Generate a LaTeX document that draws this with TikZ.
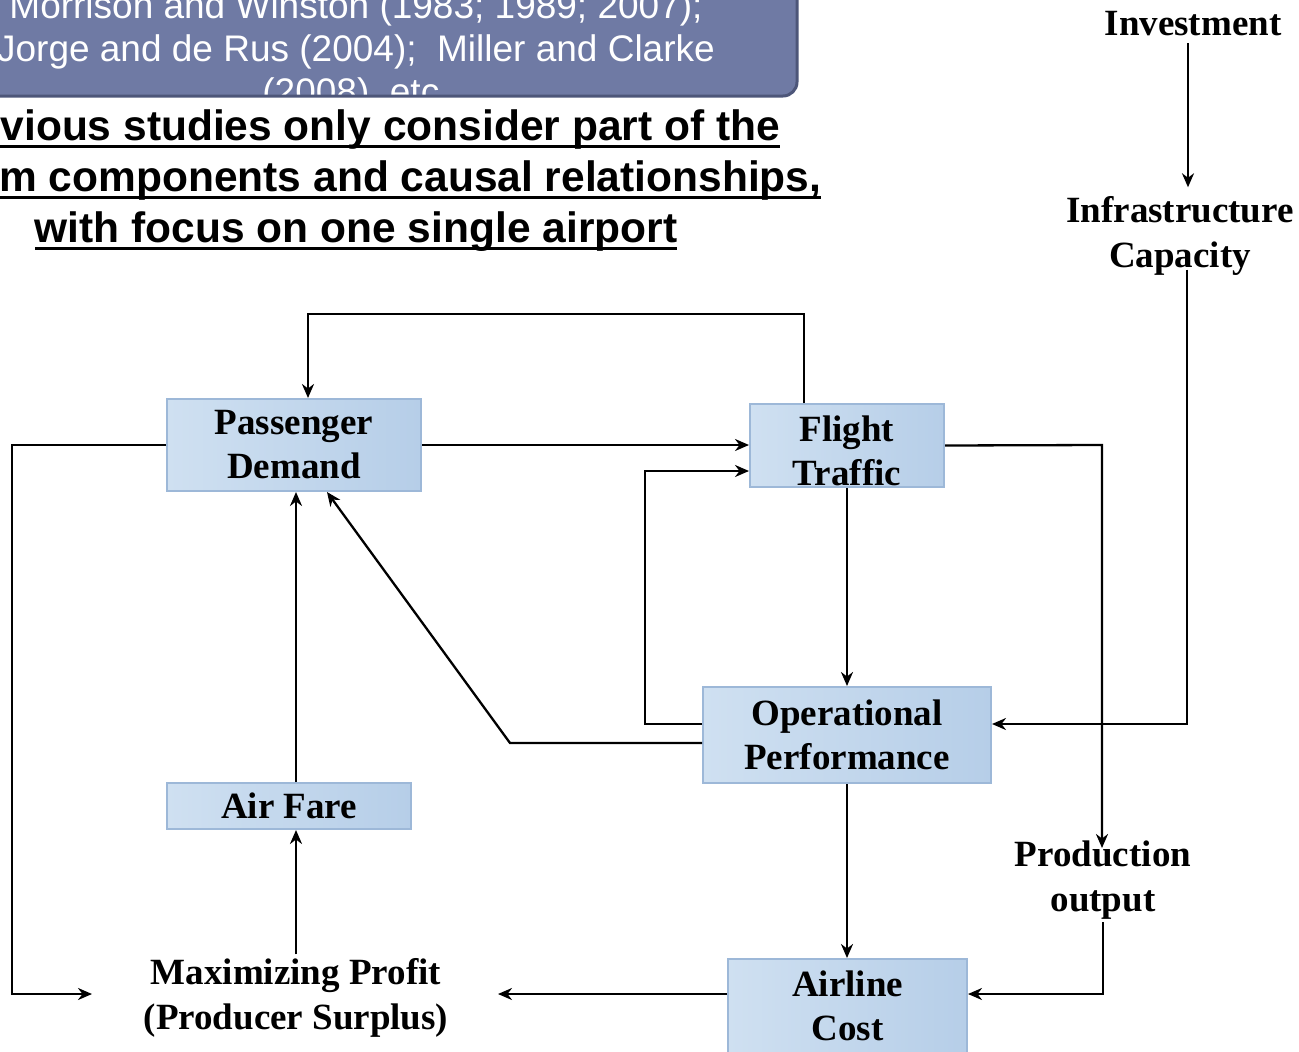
\documentclass[tikz,border=0pt]{standalone}
\usepackage{fontspec}
\setmainfont{Liberation Serif}
\newfontfamily\sansfam{Liberation Sans}
\usetikzlibrary{arrows.meta,calc}
\definecolor{boxL}{HTML}{CFE0F1}
\definecolor{boxR}{HTML}{B6CEE8}
\definecolor{boxEdge}{HTML}{9DB8D8}
\definecolor{refFill}{HTML}{6F7AA4}
\definecolor{refEdge}{HTML}{4D5679}
\tikzset{
  stagebox/.style={draw=boxEdge, line width=2pt, left color=boxL, right color=boxR,
    inner sep=0pt, align=center, font=\bfseries\fontsize{37}{44}\selectfont},
  freetext/.style={inner sep=0pt, align=center, font=\bfseries\fontsize{37}{45}\selectfont},
  reftext/.style={inner sep=0pt, anchor=base, text=white, font=\sansfam\fontsize{37}{42}\selectfont},
  claimtext/.style={inner sep=0pt, anchor=base, font=\sansfam\bfseries\fontsize{42.5}{51}\selectfont},
  link/.style={line width=2.3pt, -{Stealth[length=14pt,width=12pt,inset=4.5pt]}},
}
\begin{document}
\begin{tikzpicture}[x=1pt,y=-1pt]
\useasboundingbox (0,0) rectangle (1299,1052);
\clip (0,0) rectangle (1299,1052);

% reference box with the literature list
\fill[refFill, rounded corners=14pt] (-40,-40) rectangle (797,96);
\begin{scope}
  \clip[rounded corners=14pt] (-40,-40) rectangle (797,96);
  \node[reftext] (r1) at (356,19) {Morrison and Winston (1983; 1989; 2007);};
  \node[reftext] (r2) at (356,61) {Jorge and de Rus (2004); \ Miller and Clarke};
  \node[reftext] (r3) at (356,104) {(2008), etc.};
\end{scope}
\draw[refEdge, line width=3pt, rounded corners=14pt] (-40,-40) rectangle (797,96);

% underlined statement
\node[claimtext] (c1) at (356,140) {Previous studies only consider part of the};
\node[claimtext] (c2) at (356,191) {system components and causal relationships,};
\node[claimtext] (c3) at (356,242) {with focus on one single airport};
\foreach \n in {c1,c2,c3}
  \fill ($(\n.base west)+(0,5)$) rectangle ($(\n.base east)+(0,8)$);

% stages
\node[stagebox, minimum width=254pt, minimum height=92pt] (pd) at (294,445) {Passenger\\Demand};
\node[stagebox, minimum width=194pt, minimum height=83pt] (ft) at (847,445.5) {\rule{0pt}{37pt}Flight\\Traffic};
\node[stagebox, minimum width=288pt, minimum height=96pt] (op) at (847,735) {Operational\\Performance};
\node[stagebox, minimum width=244pt, minimum height=46pt] (af) at (289,806) {Air Fare};
\node[stagebox, minimum width=239pt, minimum height=94pt] (ac) at (847.5,1006) {Airline\\Cost};

% free-standing terms
\node[freetext, anchor=base] (inv) at (1193,35) {Investment};
\node[freetext] (infra) at (1180,236) {Infrastructure\\Capacity};
\node[freetext] (po) at (1103,880) {Production\\output};
\node[freetext] (mp) at (296,998) {Maximizing Profit\\(Producer Surplus)};

% routing points
\coordinate (fbR) at (804,314);
\coordinate (fbL) at (308,314);
\coordinate (lt) at (12,445);
\coordinate (lb) at (12,994);
\coordinate (mpIn) at (92,994);
\coordinate (lpA) at (645,724);
\coordinate (lpB) at (645,471);
\coordinate (dg) at (510,743);
\coordinate (rt) at (1102,445);
\coordinate (poTip) at (1102,848);
\coordinate (ic) at (1187,724);
\coordinate (invX) at (1188,0);
\coordinate (pb) at (1103,994);
\coordinate (mpOut) at (498,994);

% connectors
\draw[link] (ft.north -| fbR) -- (fbR) -- (fbL) -- (pd.north -| fbL);
\draw[link] (pd.east) -- (ft.west |- pd.east);
\draw[link] (pd.west) -- (lt) -- (lb) -- (mpIn);
\draw[link] (op.west |- lpA) -- (lpA) -- (lpB) -- (ft.west |- lpB);
\draw[link] (op.west |- dg) -- (dg) -- ($(pd.south)+(33,0)$);
\draw[link] (ft.south) -- (op.north);
\draw[link] (ft.east) -- (rt) -- (poTip);
\draw[link] ($(infra.south -| ic)+(0,-6)$) -- (ic) -- (op.east |- ic);
\draw[link] ($(inv.base -| invX)+(0,8)$) -- ($(infra.north -| invX)+(0,-9)$);
\draw[link] (op.south) -- (ac.north -| op.south);
\draw[link] ($(po.south -| pb)+(0,3)$) -- (pb) -- (ac.east |- pb);
\draw[link] (ac.west |- pb) -- (mpOut);
\draw[link] ($(mp.north)+(0,-4)$) -- (mp.north |- af.south);
\draw[link] (af.north -| mp.north) -- (pd.south -| mp.north);
\end{tikzpicture}
\end{document}
